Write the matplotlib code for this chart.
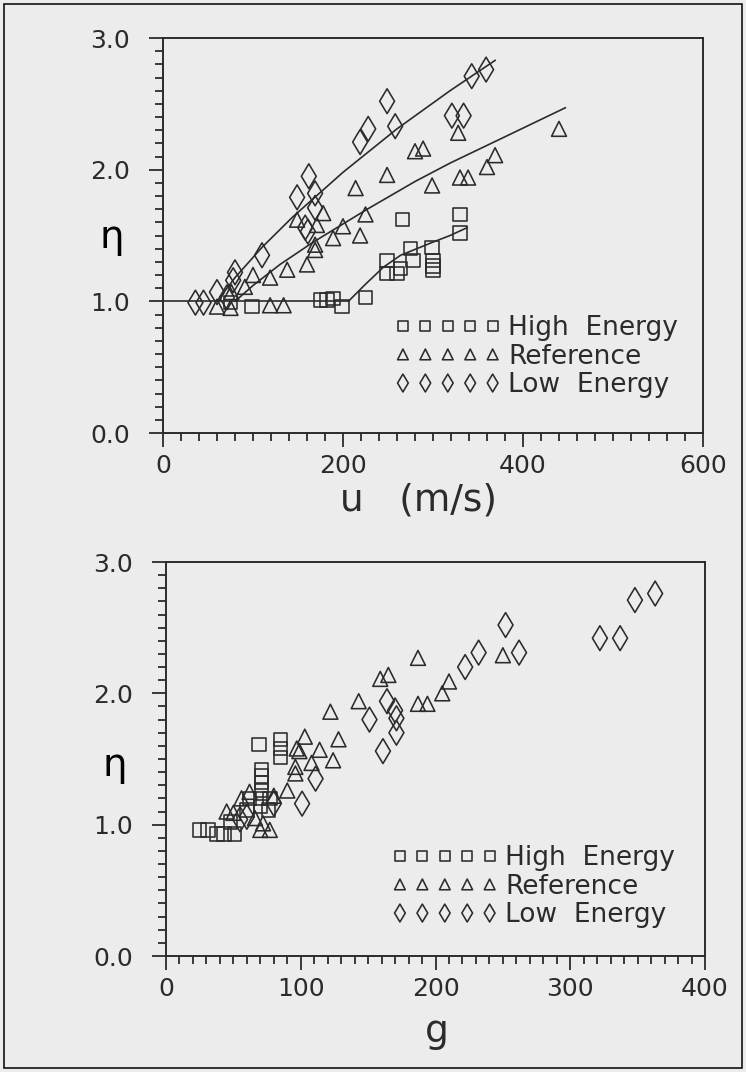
import matplotlib
matplotlib.use("Agg")
import matplotlib.pyplot as plt
from matplotlib.ticker import MultipleLocator, FormatStrFormatter
from matplotlib.patches import Rectangle

# ---------------- data: top panel (eta vs u, m/s) ----------------
high_u = [75, 99, 175, 182, 189, 199, 225, 249, 249, 260, 264, 266, 275, 278, 299, 300, 300, 300, 330, 330]
high_eta = [0.99, 0.96, 1.01, 1.01, 1.02, 0.96, 1.03, 1.31, 1.21, 1.21, 1.25, 1.62, 1.40, 1.31, 1.41, 1.31, 1.27, 1.24, 1.66, 1.52]

ref_u = [60, 75, 76, 91, 100, 119, 119, 134, 138, 149, 160, 169, 169, 171, 178, 189, 200, 214, 219, 225,
         249, 280, 289, 299, 328, 330, 339, 360, 369, 440]
ref_eta = [0.96, 0.95, 1.07, 1.11, 1.20, 1.18, 0.97, 0.97, 1.24, 1.62, 1.28, 1.43, 1.39, 1.58, 1.67, 1.48, 1.57, 1.86, 1.50, 1.66,
           1.96, 2.14, 2.16, 1.88, 2.28, 1.94, 1.94, 2.02, 2.11, 2.31]

low_u = [36, 45, 60, 71, 78, 80, 110, 149, 158, 161, 162, 169, 169, 219, 228, 249, 258, 321, 334, 343, 359]
low_eta = [0.99, 0.99, 1.07, 1.03, 1.16, 1.22, 1.35, 1.79, 1.56, 1.53, 1.95, 1.82, 1.71, 2.21, 2.31, 2.52, 2.33, 2.41, 2.41, 2.71, 2.76]

# fitted curves
base_u = [0, 206]
base_eta = [1.0, 1.0]
fit_low_u = [60, 80, 110, 144, 200, 260, 319, 369]
fit_low_eta = [1.0, 1.18, 1.41, 1.64, 1.98, 2.31, 2.60, 2.83]
fit_ref_u = [80, 100, 130, 167, 227, 280, 319, 380, 447]
fit_ref_eta = [1.0, 1.12, 1.28, 1.45, 1.70, 1.91, 2.05, 2.25, 2.47]
fit_high_u = [206, 225, 245, 264, 300, 319, 338]
fit_high_eta = [1.0, 1.13, 1.26, 1.35, 1.45, 1.50, 1.56]

# ---------------- data: bottom panel (eta vs g) ----------------
high_g = [25, 31, 38, 43, 51, 48, 60, 62, 69, 70, 70, 71, 71, 71, 71, 76, 77, 85, 85, 85]
high_eta2 = [0.96, 0.96, 0.93, 0.93, 0.93, 1.02, 1.11, 1.20, 1.61, 1.20, 1.14, 1.42, 1.37, 1.32, 1.26, 1.11, 1.20, 1.65, 1.58, 1.51]

ref_g = [45, 50, 56, 62, 66, 70, 72, 77, 80, 90, 96, 96, 97, 99, 103, 108, 114, 122, 124, 128, 143, 159, 165,
         187, 187, 194, 205, 210, 250]
ref_eta2 = [1.10, 1.09, 1.20, 1.25, 1.05, 0.96, 1.01, 0.96, 1.22, 1.26, 1.44, 1.39, 1.58, 1.56, 1.67, 1.47, 1.57, 1.86, 1.49, 1.65, 1.94, 2.11, 2.14,
            2.27, 1.92, 1.92, 2.00, 2.09, 2.29]

low_g = [55, 60, 80, 101, 111, 151, 161, 164, 170, 171, 171, 222, 232, 252, 262, 322, 337, 348, 363]
low_eta2 = [1.04, 1.06, 1.16, 1.16, 1.35, 1.80, 1.56, 1.94, 1.87, 1.81, 1.70, 2.20, 2.31, 2.52, 2.31, 2.42, 2.42, 2.71, 2.76]

labels = ["High  Energy", "Reference", "Low  Energy"]

# ---------------- style ----------------
INK = "#2b2b2b"
BG = "#ececec"
plt.rcParams["font.family"] = ["DejaVu Sans"]
plt.rcParams["text.color"] = INK

W, H = 746, 1072
fig = plt.figure(figsize=(W / 100, H / 100), dpi=100, facecolor=BG)


def make_axes(l, r, t, b):
    return fig.add_axes([l / W, 1 - b / H, (r - l) / W, (b - t) / H])


ax1 = make_axes(163, 703, 38, 433)
ax2 = make_axes(166, 705, 562, 956)

mk = dict(facecolors="none", edgecolors=INK, linewidths=1.15, zorder=3)


def style(ax, xmax, xmaj, xmin):
    ax.set_facecolor(BG)
    ax.set_xlim(0, xmax)
    ax.set_ylim(0, 3)
    ax.xaxis.set_major_locator(MultipleLocator(xmaj))
    ax.xaxis.set_minor_locator(MultipleLocator(xmin))
    ax.yaxis.set_major_locator(MultipleLocator(1.0))
    ax.yaxis.set_minor_locator(MultipleLocator(0.1))
    ax.yaxis.set_major_formatter(FormatStrFormatter("%.1f"))
    for s in ax.spines.values():
        s.set_linewidth(1.4)
        s.set_color(INK)
    ax.tick_params(which="both", direction="out", color=INK, width=1.3,
                   labelcolor=INK, labelsize=18)
    ax.tick_params(which="major", length=10)
    ax.tick_params(which="minor", length=6)
    ax.tick_params(axis="y", which="major", pad=14)
    ax.tick_params(axis="x", which="major", pad=5)


def scatter_all(ax, hx, hy, rx, ry, lx, ly):
    h1 = ax.scatter(hx, hy, marker="s", s=95, **mk)
    h2 = ax.scatter(rx, ry, marker="^", s=115, **mk)
    h3 = ax.scatter(lx, ly, marker="d", s=160, **mk)
    return [h1, h2, h3]


def legend(ax, handles, x, y):
    ax.legend(handles, labels, scatterpoints=5, scatteryoffsets=[0.5], markerscale=0.72,
              frameon=False, loc="upper left", bbox_to_anchor=(x, y), fontsize=19,
              handlelength=4.0, handletextpad=0.3, labelspacing=0.1,
              borderpad=0, borderaxespad=0)


# top panel
style(ax1, 600, 200, 20)
ax1.plot(base_u, base_eta, color=INK, lw=1.2, zorder=2)
ax1.plot(fit_low_u, fit_low_eta, color=INK, lw=1.2, zorder=2)
ax1.plot(fit_ref_u, fit_ref_eta, color=INK, lw=1.2, zorder=2)
ax1.plot(fit_high_u, fit_high_eta, color=INK, lw=1.2, zorder=2)
hs = scatter_all(ax1, high_u, high_eta, ref_u, ref_eta, low_u, low_eta)
legend(ax1, hs, (395 - 163) / 540, (433 - 315) / 395)
ax1.set_ylabel("η", rotation=0, fontsize=28, va="center", ha="center")
ax1.yaxis.set_label_coords(-0.095, 0.496)
fig.text(340 / W, 1 - 500 / H, "u   (m/s)", fontsize=27, ha="left", va="center")

# bottom panel
style(ax2, 400, 100, 10)
hs2 = scatter_all(ax2, high_g, high_eta2, ref_g, ref_eta2, low_g, low_eta2)
legend(ax2, hs2, (392 - 166) / 539, (956 - 845) / 394)
ax2.set_ylabel("η", rotation=0, fontsize=28, va="center", ha="center")
ax2.yaxis.set_label_coords(-0.095, 0.485)
fig.text(437 / W, 1 - 1032 / H, "g", fontsize=27, ha="center", va="center")

# scan frame
fig.add_artist(Rectangle((4 / W, 4 / H), 1 - 8 / W, 1 - 8 / H, transform=fig.transFigure,
                         fill=False, edgecolor="#111111", lw=1.2))

fig.savefig("out.png", dpi=100, facecolor=BG)
